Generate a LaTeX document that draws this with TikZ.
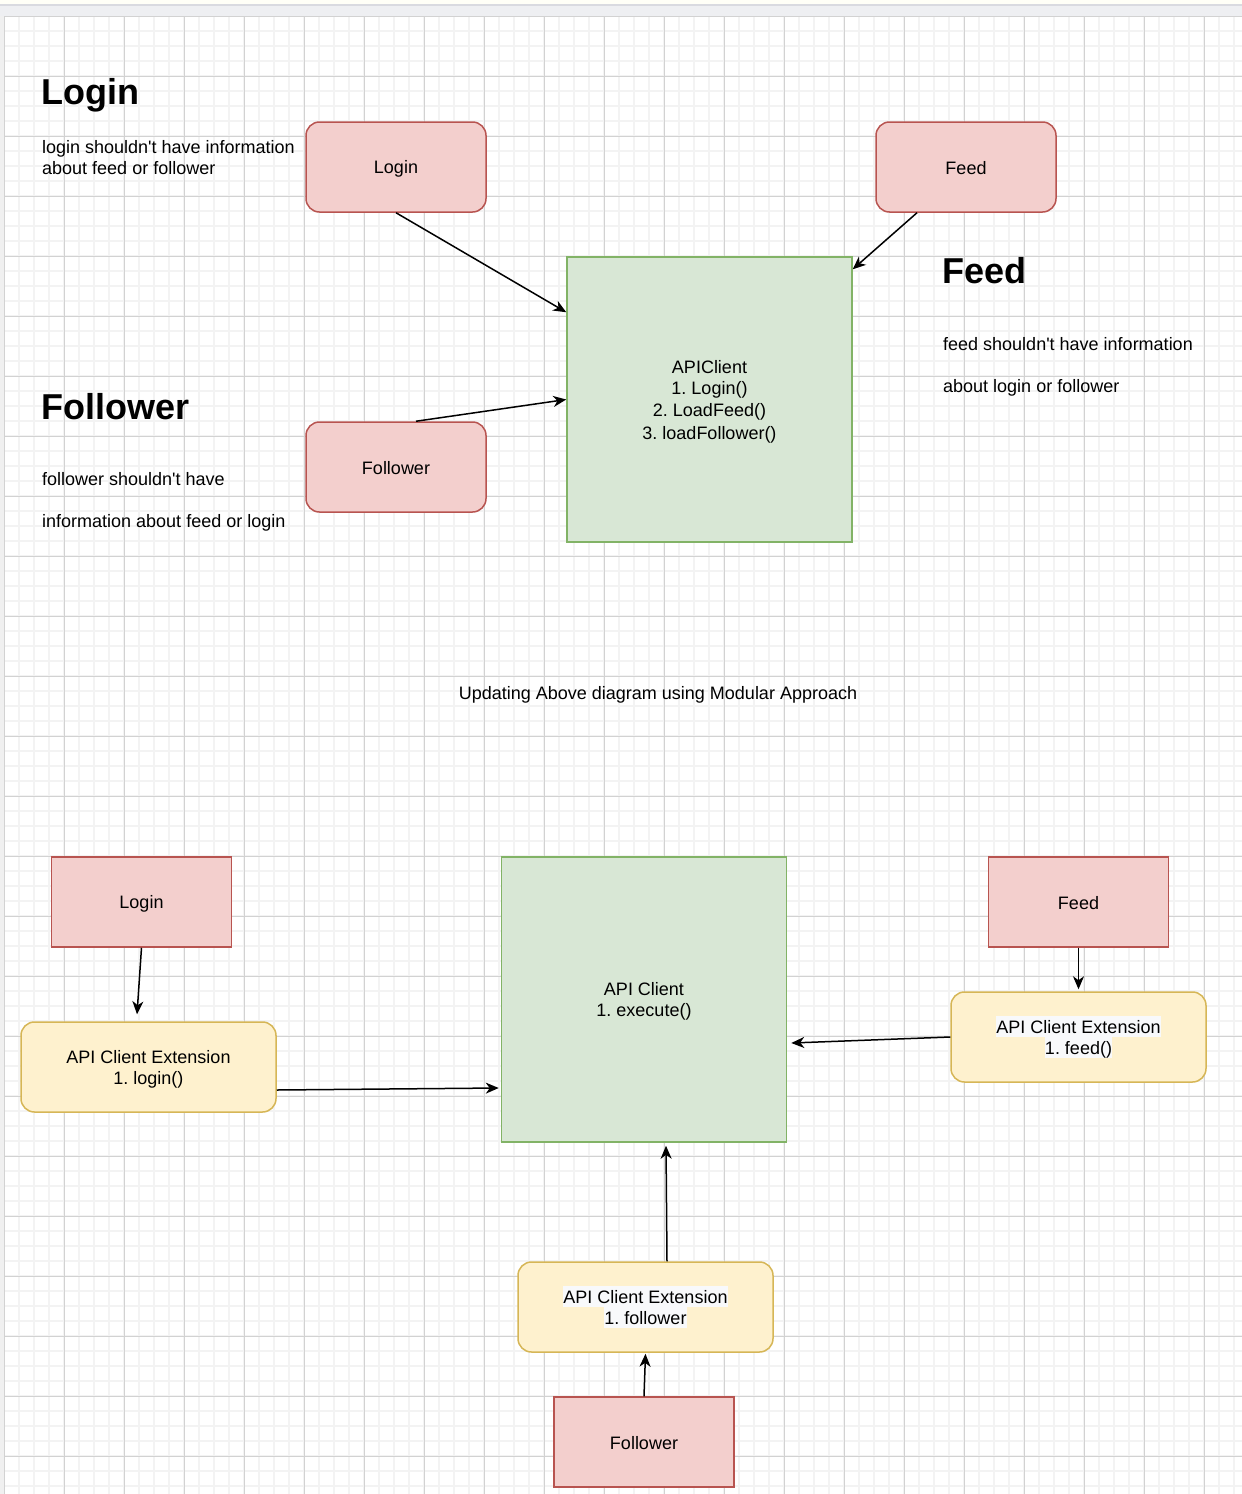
\documentclass[tikz,border=0pt]{standalone}
\usepackage{fontspec}
\setmainfont{Liberation Sans}[Ligatures=TeXOff]
\usetikzlibrary{arrows.meta}
\frenchspacing
\definecolor{redF}{HTML}{F3CFCD}
\definecolor{redS}{HTML}{B85450}
\definecolor{grnF}{HTML}{D8E7D5}
\definecolor{grnS}{HTML}{82B366}
\definecolor{ylwF}{HTML}{FEF1CE}
\definecolor{ylwS}{HTML}{D6B656}
\definecolor{gridMinor}{HTML}{F3F3F3}
\definecolor{gridMajor}{HTML}{D2D2D2}
\definecolor{hlc}{HTML}{F8F9FB}
\definecolor{topband}{HTML}{EEEFF2}
\definecolor{topline}{HTML}{D9DAE0}
\newcommand\lnst{\rule[-3.5pt]{0pt}{21pt}}
\newcommand\hlline[1]{{\setlength{\fboxsep}{0pt}\colorbox{hlc}{\lnst#1}}}
\tikzset{
  body/.style={font=\fontsize{18}{21}\selectfont},
  head/.style={font=\fontsize{36}{42}\selectfont\bfseries},
  box/.style={draw, line width=1.5pt, minimum width=180pt, minimum height=90pt, inner sep=0pt, align=center, body},
  redround/.style={box, fill=redF, draw=redS, rounded corners=13.5pt},
  redrect/.style={box, fill=redF, draw=redS},
  green/.style={box, fill=grnF, draw=grnS, minimum width=285pt, minimum height=285pt},
  ext/.style={box, fill=ylwF, draw=ylwS, rounded corners=13.5pt, minimum width=255pt},
  conn/.style={line width=1.5pt, -{Stealth[length=13pt,width=11pt,inset=4pt]}},
  minor/.style={gridMinor, line width=2pt},
  major/.style={gridMajor, line width=1pt},
}
\begin{document}
\begin{tikzpicture}[x=1pt,y=-1pt]
\useasboundingbox (0,0) rectangle (1242,1494);
% background
\fill[white] (0,0) rectangle (1242,1494);
\fill[topband] (0,0) rectangle (1242,16);
\fill[white!97!yellow] (0,0) rectangle (1242,4);
\draw[topline, line width=2pt] (0,5) -- (1242,5);
\fill[black!6] (0,16) rectangle (4,1494);
% grid
\foreach \x in {19,34,...,1241} \draw[minor] (\x,16) -- (\x,1494);
\foreach \y in {31,46,...,1494} \draw[minor] (4,\y) -- (1242,\y);
\foreach \x in {4,64,...,1241} \draw[major] (\x,16) -- (\x,1494);
\foreach \y in {16,76,...,1494} \draw[major] (4,\y) -- (1242,\y);

% ---------- top diagram ----------
\node[redround] (loginT) at (396,167) {\lnst Login};
\node[redround] (feedT) at (966,167) {\lnst Feed};
\node[redround] (follT) at (396,467) {\lnst Follower};
\node[green] (apiT) at (709.5,399.5) {\lnst APIClient\\\lnst 1. Login()\\\lnst 2. LoadFeed()\\\lnst 3. loadFollower()};

\draw[conn] (loginT.south) -- ([yshift=-56pt]apiT.north west);
\draw[conn] ([xshift=-49pt]feedT.south) -- ([yshift=-13pt]apiT.north east);
\draw[conn] ([xshift=20pt]follT.north) -- (apiT.west);

% headings and notes
\node[head, anchor=base west, inner sep=0pt] (hLogin) at (41.5,104) {Login};
\node[body, anchor=base west, inner sep=0pt] (tLogin1) at (42,153) {login shouldn't have information};
\node[body, anchor=base west, inner sep=0pt] (tLogin2) at (42,174) {about feed or follower};

\node[head, anchor=base west, inner sep=0pt] (hFeed) at (942,283) {Feed};
\node[body, anchor=base west, inner sep=0pt] (tFeed1) at (943,350) {feed shouldn't have information};
\node[body, anchor=base west, inner sep=0pt] (tFeed2) at (943,392) {about login or follower};

\node[head, anchor=base west, inner sep=0pt] (hFoll) at (41.5,419) {Follower};
\node[body, anchor=base west, inner sep=0pt] (tFoll1) at (42,485) {follower shouldn't have};
\node[body, anchor=base west, inner sep=0pt] (tFoll2) at (42,527) {information about feed or login};

\node[body, anchor=base, inner sep=0pt] (update) at (658,699) {Updating Above diagram using Modular Approach};

% ---------- bottom diagram ----------
\node[redrect] (loginB) at (141.5,902) {\lnst Login};
\node[redrect] (feedB) at (1078.5,902) {\lnst Feed};
\node[redrect] (follB) at (644,1442) {\lnst Follower};
\node[green] (apiB) at (644,999.5) {\lnst API Client\\\lnst 1. execute()};
\node[ext] (extL) at (148.5,1067) {\lnst API Client Extension\\\lnst 1. login()};
\node[ext] (extF) at (1078.5,1037) {\hlline{API Client Extension}\\\hlline{1. feed()}};
\node[ext] (extFo) at (645.5,1307) {\hlline{API Client Extension}\\\hlline{1. follower}};

\draw[conn] (loginB.south) -- ([xshift=-11.5pt,yshift=7pt]extL.north);
\draw[conn] ([yshift=-23pt]extL.east) -- ([xshift=-2pt,yshift=-88.5pt]apiB.west);
\draw[conn] (feedB.south) -- ([yshift=2pt]extF.north);
\draw[conn] (extF.west) -- ([xshift=4pt,yshift=-43.5pt]apiB.east);
\draw[conn] ([xshift=21.5pt]extFo.north) -- ([xshift=22pt,yshift=-3pt]apiB.south);
\draw[conn] (follB.north) -- ([yshift=-1pt]extFo.south);
\end{tikzpicture}
\end{document}
